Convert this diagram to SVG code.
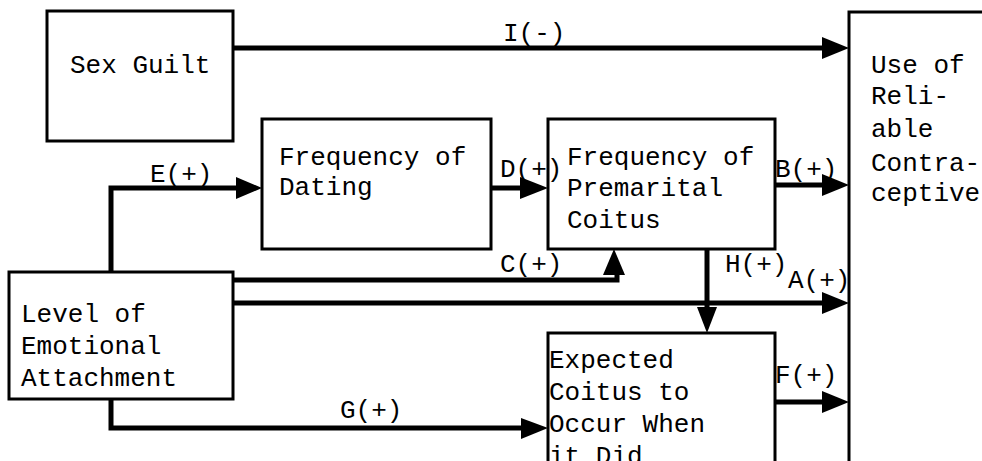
<svg xmlns="http://www.w3.org/2000/svg" width="982" height="461" viewBox="0 0 982 461">
  <style>
    .box { fill: #fff; stroke: #000; stroke-width: 3; }
    .txt { font-family: "Liberation Mono", "DejaVu Sans Mono", monospace; font-size: 26px; fill: #000; }
    .wire { fill: none; stroke: #000; stroke-width: 5; stroke-linejoin: miter; }
    .head { fill: #000; stroke: none; }
  </style>
  <rect width="982" height="461" fill="#fff"/>

  <g id="connectors">
    <!-- I(-): Sex Guilt -> Use of Reliable Contraceptive -->
    <path class="wire" d="M233 48 H826"/>
    <polygon class="head" points="822,37 849,48 822,59"/>
    <!-- E(+): Emotional Attachment -> Frequency of Dating -->
    <path class="wire" d="M111 272 V188 H240"/>
    <polygon class="head" points="236,177 262,188 236,199"/>
    <!-- D(+): Dating -> Premarital Coitus -->
    <path class="wire" d="M491 188 H524"/>
    <polygon class="head" points="520,177 548,188 520,199"/>
    <!-- B(+): Premarital Coitus -> Contraceptive -->
    <path class="wire" d="M775 185 H826"/>
    <polygon class="head" points="822,174 849,185 822,196"/>
    <!-- C(+): Emotional Attachment -> Premarital Coitus -->
    <path class="wire" d="M233 280 H617 V272"/>
    <polygon class="head" points="603,275 614,249 625,275"/>
    <!-- A(+): Emotional Attachment -> Contraceptive -->
    <path class="wire" d="M233 303 H826"/>
    <polygon class="head" points="822,292 849,303 822,314"/>
    <!-- H(+): Premarital Coitus -> Expected Coitus -->
    <path class="wire" d="M707 249 V311"/>
    <polygon class="head" points="697,307 707,333 717,307"/>
    <!-- F(+): Expected Coitus -> Contraceptive -->
    <path class="wire" d="M775 402 H826"/>
    <polygon class="head" points="822,391 849,402 822,413"/>
    <!-- G(+): Emotional Attachment -> Expected Coitus -->
    <path class="wire" d="M111 399 V428 H524"/>
    <polygon class="head" points="521,418 548,428 521,439"/>
  </g>

  <g id="sex-guilt">
    <rect class="box" x="47" y="11" width="186" height="130"/>
    <text class="txt" x="70" y="73">Sex Guilt</text>
  </g>

  <g id="frequency-dating">
    <rect class="box" x="262" y="119" width="229" height="130"/>
    <text class="txt" x="279" y="165">Frequency of</text>
    <text class="txt" x="279" y="195">Dating</text>
  </g>

  <g id="premarital-coitus">
    <rect class="box" x="548" y="119" width="227" height="130"/>
    <text class="txt" x="567" y="165">Frequency of</text>
    <text class="txt" x="567" y="196">Premarital</text>
    <text class="txt" x="567" y="228">Coitus</text>
  </g>

  <g id="emotional-attachment">
    <rect class="box" x="9" y="272" width="224" height="127"/>
    <text class="txt" x="21" y="322">Level of</text>
    <text class="txt" x="21" y="354">Emotional</text>
    <text class="txt" x="21" y="386">Attachment</text>
  </g>

  <g id="expected-coitus">
    <rect class="box" x="548" y="333" width="227" height="160"/>
    <text class="txt" x="549" y="368">Expected</text>
    <text class="txt" x="549" y="400">Coitus to</text>
    <text class="txt" x="549" y="432">Occur When</text>
    <text class="txt" x="549" y="464">it Did</text>
  </g>

  <g id="reliable-contraceptive">
    <rect class="box" x="849" y="12" width="160" height="470"/>
    <text class="txt" x="871" y="73">Use of</text>
    <text class="txt" x="871" y="104">Reli-</text>
    <text class="txt" x="871" y="137">able</text>
    <text class="txt" x="871" y="171">Contra-</text>
    <text class="txt" x="871" y="201">ceptive</text>
  </g>

  <g id="labels">
    <text class="txt" x="503" y="41">I(-)</text>
    <text class="txt" x="150" y="182">E(+)</text>
    <text class="txt" x="500" y="177">D(+)</text>
    <text class="txt" x="775" y="177">B(+)</text>
    <text class="txt" x="500" y="272">C(+)</text>
    <text class="txt" x="725" y="272">H(+)</text>
    <text class="txt" x="788" y="288">A(+)</text>
    <text class="txt" x="775" y="383">F(+)</text>
    <text class="txt" x="340" y="418">G(+)</text>
  </g>
</svg>
